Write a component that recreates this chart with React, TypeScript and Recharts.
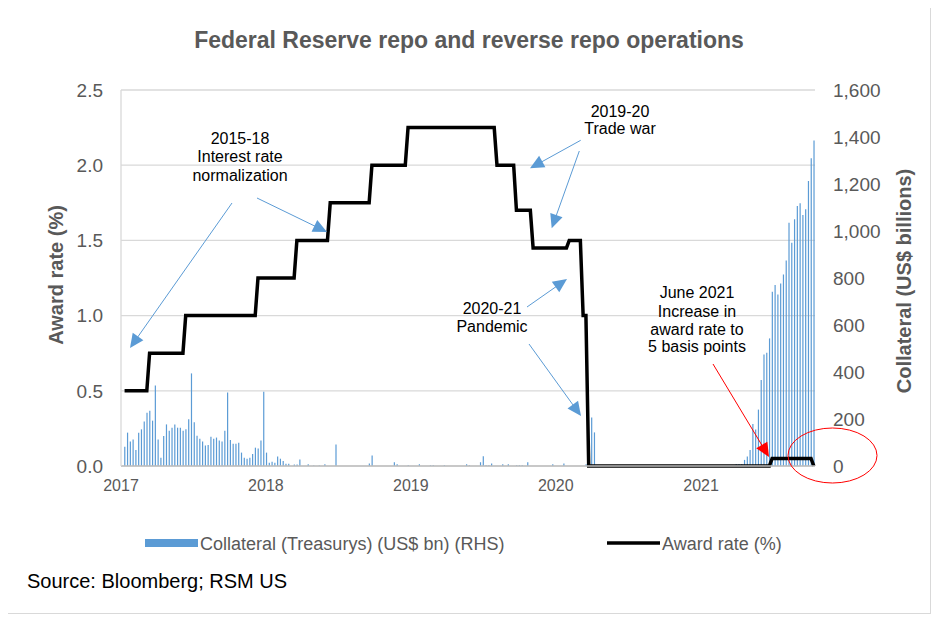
import React from "react";
import { ComposedChart, Bar, Line, XAxis, YAxis, CartesianGrid } from "recharts";

// Weekly collateral (Treasurys) accepted, US$ bn (right axis)
const collateral = [
  82, 142, 104, 113, 68, 142, 156, 189, 227, 235, 193, 343, 113, 35, 128, 177, 150, 163, 177, 163,
  163, 150, 156, 199, 394, 186, 129, 116, 104, 87, 89, 125, 116, 121, 108, 104, 150, 313, 111, 95,
  95, 99, 57, 35, 31, 35, 51, 78, 74, 108, 316, 57, 14, 18, 14, 40, 31, 21, 10, 10,
  0, 6, 6, 28, 0, 0, 7, 0, 2, 0, 2, 0, 7, 0, 0, 0, 92, 0, 0, 0,
  0, 0, 0, 0, 0, 0, 0, 0, 11, 45, 0, 0, 0, 0, 0, 0, 0, 16, 7, 0,
  0, 0, 3, 0, 0, 0, 7, 0, 0, 0, 3, 3, 0, 0, 0, 3, 0, 0, 0, 0,
  0, 0, 0, 7, 3, 0, 0, 0, 16, 41, 3, 3, 11, 0, 0, 0, 7, 0, 7, 0,
  0, 3, 3, 3, 0, 16, 0, 0, 0, 0, 0, 0, 0, 0, 7, 0, 0, 0, 11, 0,
  0, 0, 0, 0, 0, 0, 7, 0, 206, 143, 0, 0, 0, 0, 0, 0, 0, 0, 0, 0,
  0, 0, 0, 0, 0, 0, 0, 0, 0, 0, 0, 0, 0, 0, 0, 0, 0, 0, 0, 0,
  0, 0, 0, 0, 0, 0, 0, 0, 0, 0, 0, 0, 0, 0, 0, 0, 0, 0, 0, 0,
  8, 8, 8, 26, 40, 68, 179, 155, 240, 366, 475, 482, 543, 742, 770, 730, 777, 815, 875, 1035,
  950, 1050, 1106, 1118, 1068, 1093, 1213, 1310, 1385,
];

// Weekly award rate, % (left axis)
const awardRate = [
  0.5, 0.5, 0.5, 0.5, 0.5, 0.5, 0.5, 0.5, 0.5, 0.75, 0.75, 0.75, 0.75, 0.75, 0.75, 0.75, 0.75, 0.75, 0.75, 0.75,
  0.75, 0.75, 1, 1, 1, 1, 1, 1, 1, 1, 1, 1, 1, 1, 1, 1, 1, 1, 1, 1,
  1, 1, 1, 1, 1, 1, 1, 1, 1.25, 1.25, 1.25, 1.25, 1.25, 1.25, 1.25, 1.25, 1.25, 1.25, 1.25, 1.25,
  1.25, 1.25, 1.5, 1.5, 1.5, 1.5, 1.5, 1.5, 1.5, 1.5, 1.5, 1.5, 1.5, 1.5, 1.75, 1.75, 1.75, 1.75, 1.75, 1.75,
  1.75, 1.75, 1.75, 1.75, 1.75, 1.75, 1.75, 1.75, 1.75, 2, 2, 2, 2, 2, 2, 2, 2, 2, 2, 2,
  2, 2, 2.25, 2.25, 2.25, 2.25, 2.25, 2.25, 2.25, 2.25, 2.25, 2.25, 2.25, 2.25, 2.25, 2.25, 2.25, 2.25, 2.25, 2.25,
  2.25, 2.25, 2.25, 2.25, 2.25, 2.25, 2.25, 2.25, 2.25, 2.25, 2.25, 2.25, 2.25, 2.25, 2, 2, 2, 2, 2, 2,
  2, 1.7, 1.7, 1.7, 1.7, 1.7, 1.7, 1.45, 1.45, 1.45, 1.45, 1.45, 1.45, 1.45, 1.45, 1.45, 1.45, 1.45, 1.45, 1.45,
  1.5, 1.5, 1.5, 1.5, 1.5, 1, 1, 0, 0, 0, 0, 0, 0, 0, 0, 0, 0, 0, 0, 0,
  0, 0, 0, 0, 0, 0, 0, 0, 0, 0, 0, 0, 0, 0, 0, 0, 0, 0, 0, 0,
  0, 0, 0, 0, 0, 0, 0, 0, 0, 0, 0, 0, 0, 0, 0, 0, 0, 0, 0, 0,
  0, 0, 0, 0, 0, 0, 0, 0, 0, 0, 0, 0, 0, 0.05, 0.05, 0.05, 0.05, 0.05, 0.05, 0.05,
  0.05, 0.05, 0.05, 0.05, 0.05, 0.05, 0.05, 0.05, 0,
];

// Year tick labels and their positions (days since 2017-01-01)
const yearLabels = ["2017", "2018", "2019", "2020", "2021"];
const yearTicks = [0, 365, 730, 1095, 1461];
const rateTicks = [0, 0.5, 1, 1.5, 2, 2.5];
const collateralTicks = [0, 200, 400, 600, 800, 1000, 1200, 1400, 1600];

const DAY_MS = 86400000;
const ORIGIN = Date.UTC(2017, 0, 1);
const FIRST_WEEK = Date.UTC(2017, 0, 10);

const data = collateral.map((c, i) => ({
  day: (FIRST_WEEK - ORIGIN) / DAY_MS + 7 * i,
  collateral: c,
  rate: awardRate[i],
}));

const FONT = "'Liberation Sans', Arial, Helvetica, sans-serif";
const GREY = "#595959";
const BLUE = "#5b9bd5";
const W = 923;
const H = 606;

function Arrow({ x1, y1, x2, y2, color }: { x1: number; y1: number; x2: number; y2: number; color: string }) {
  const dx = x2 - x1;
  const dy = y2 - y1;
  const L = Math.hypot(dx, dy);
  const ux = dx / L;
  const uy = dy / L;
  const len = 14;
  const half = 6.5;
  const bx = x2 - ux * len;
  const by = y2 - uy * len;
  const px = -uy;
  const py = ux;
  return (
    <g>
      <line x1={x1} y1={y1} x2={bx + ux * 2} y2={by + uy * 2} stroke={color} strokeWidth={1} />
      <polygon
        points={`${x2},${y2} ${bx + px * half},${by + py * half} ${bx - px * half},${by - py * half}`}
        fill={color}
      />
    </g>
  );
}

const o = 8; // page offset of the chart box

export default function App() {
  return (
    <div style={{ position: "relative", width: W, height: H, fontFamily: FONT }}>
      <div
        style={{
          position: "absolute",
          left: -1,
          top: -1,
          width: W + 1,
          height: H + 1,
          border: "1px solid #d9d9d9",
          boxSizing: "border-box",
        }}
      />
      <ComposedChart width={W} height={H} data={data} margin={{ top: 82, left: 43, right: 46, bottom: 118 }}>
        <CartesianGrid yAxisId="left" vertical={false} stroke="#d9d9d9" strokeWidth={1.3} />
        <XAxis
          dataKey="day"
          type="number"
          domain={[0, 1748]}
          ticks={yearTicks}
          interval={0}
          tickFormatter={(v: number) => yearLabels[yearTicks.indexOf(v)]}
          axisLine={{ stroke: "#bfbfbf", strokeWidth: 1.5 }}
          tickLine={false}
          tickSize={0}
          tickMargin={14}
          height={30}
          tick={{ fontSize: 16, fill: GREY, fontFamily: FONT }}
        />
        <YAxis
          yAxisId="left"
          domain={[0, 2.5]}
          ticks={rateTicks}
          interval={0}
          tickFormatter={(v: number) => v.toFixed(1)}
          axisLine={{ stroke: "#d9d9d9", strokeWidth: 1.3 }}
          tickLine={false}
          tickSize={0}
          tickMargin={18}
          width={70}
          tick={{ fontSize: 19, fill: GREY, fontFamily: FONT }}
        />
        <YAxis
          yAxisId="right"
          orientation="right"
          domain={[0, 1600]}
          ticks={collateralTicks}
          interval={0}
          tickFormatter={(v: number) => v.toLocaleString("en-US")}
          axisLine={false}
          tickLine={false}
          tickSize={0}
          tickMargin={18}
          width={70}
          tick={{ fontSize: 19, fill: GREY, fontFamily: FONT, textAnchor: "start" }}
        />
        <Bar
          yAxisId="right"
          dataKey="collateral"
          name="Collateral (Treasurys) (US$ bn) (RHS)"
          fill={BLUE}
          barSize={1.2}
          isAnimationActive={false}
        />
        <Line
          yAxisId="left"
          dataKey="rate"
          name="Award rate (%)"
          type="linear"
          stroke="#000000"
          strokeWidth={3.5}
          dot={false}
          activeDot={false}
          isAnimationActive={false}
        />
      </ComposedChart>
      <svg
        width={W}
        height={H}
        style={{ position: "absolute", left: 0, top: 0, pointerEvents: "none", fontFamily: FONT }}
      >
        <text x={469 - o} y={48.3 - o} textAnchor="middle" fontSize={23} fontWeight="bold" fill={GREY}>
          Federal Reserve repo and reverse repo operations
        </text>
        <text
          transform={`translate(${63 - o}, ${275 - o}) rotate(-90)`}
          textAnchor="middle"
          fontSize={20}
          fontWeight="bold"
          fill={GREY}
        >
          Award rate (%)
        </text>
        <text
          transform={`translate(${911 - o}, ${281 - o}) rotate(-90)`}
          textAnchor="middle"
          fontSize={20}
          fontWeight="bold"
          fill={GREY}
        >
          Collateral (US$ billions)
        </text>

        <g fontSize={16} fill="#000" textAnchor="middle">
          <text x={240 - o} y={144 - o}>2015-18</text>
          <text x={240 - o} y={162.3 - o}>Interest rate</text>
          <text x={240 - o} y={180.5 - o}>normalization</text>

          <text x={620 - o} y={116.7 - o}>2019-20</text>
          <text x={620 - o} y={134 - o}>Trade war</text>

          <text x={492 - o} y={314 - o}>2020-21</text>
          <text x={492 - o} y={331.7 - o}>Pandemic</text>

          <text x={697 - o} y={298 - o}>June 2021</text>
          <text x={697 - o} y={316.5 - o}>Increase in</text>
          <text x={697 - o} y={335 - o}>award rate to</text>
          <text x={697 - o} y={352 - o}>5 basis points</text>
        </g>

        <Arrow x1={232 - o} y1={203 - o} x2={130 - o} y2={348 - o} color={BLUE} />
        <Arrow x1={257 - o} y1={198 - o} x2={327 - o} y2={232 - o} color={BLUE} />
        <Arrow x1={580.7 - o} y1={140.3 - o} x2={530 - o} y2={168.3 - o} color={BLUE} />
        <Arrow x1={579.3 - o} y1={151 - o} x2={551.7 - o} y2={228.3 - o} color={BLUE} />
        <Arrow x1={527 - o} y1={307 - o} x2={567 - o} y2={279 - o} color={BLUE} />
        <Arrow x1={529 - o} y1={344 - o} x2={581 - o} y2={416 - o} color={BLUE} />
        <Arrow x1={713 - o} y1={364 - o} x2={769 - o} y2={457 - o} color="#ff0000" />
        <ellipse cx={832.5 - o} cy={455.5 - o} rx={44.5} ry={27.5} fill="none" stroke="#ff0000" strokeWidth={1} />

        <rect x={145 - o} y={539 - o} width={53} height={8} fill={BLUE} />
        <text x={200 - o} y={549.5 - o} fontSize={18} fill={GREY}>
          Collateral (Treasurys) (US$ bn) (RHS)
        </text>
        <line x1={607 - o} y1={543 - o} x2={660 - o} y2={543 - o} stroke="#000" strokeWidth={3.5} />
        <text x={662 - o} y={549.5 - o} fontSize={18} fill={GREY}>
          Award rate (%)
        </text>

        <text x={27 - o} y={588 - o} fontSize={20} fill="#000">
          Source: Bloomberg; RSM US
        </text>
      </svg>
    </div>
  );
}
